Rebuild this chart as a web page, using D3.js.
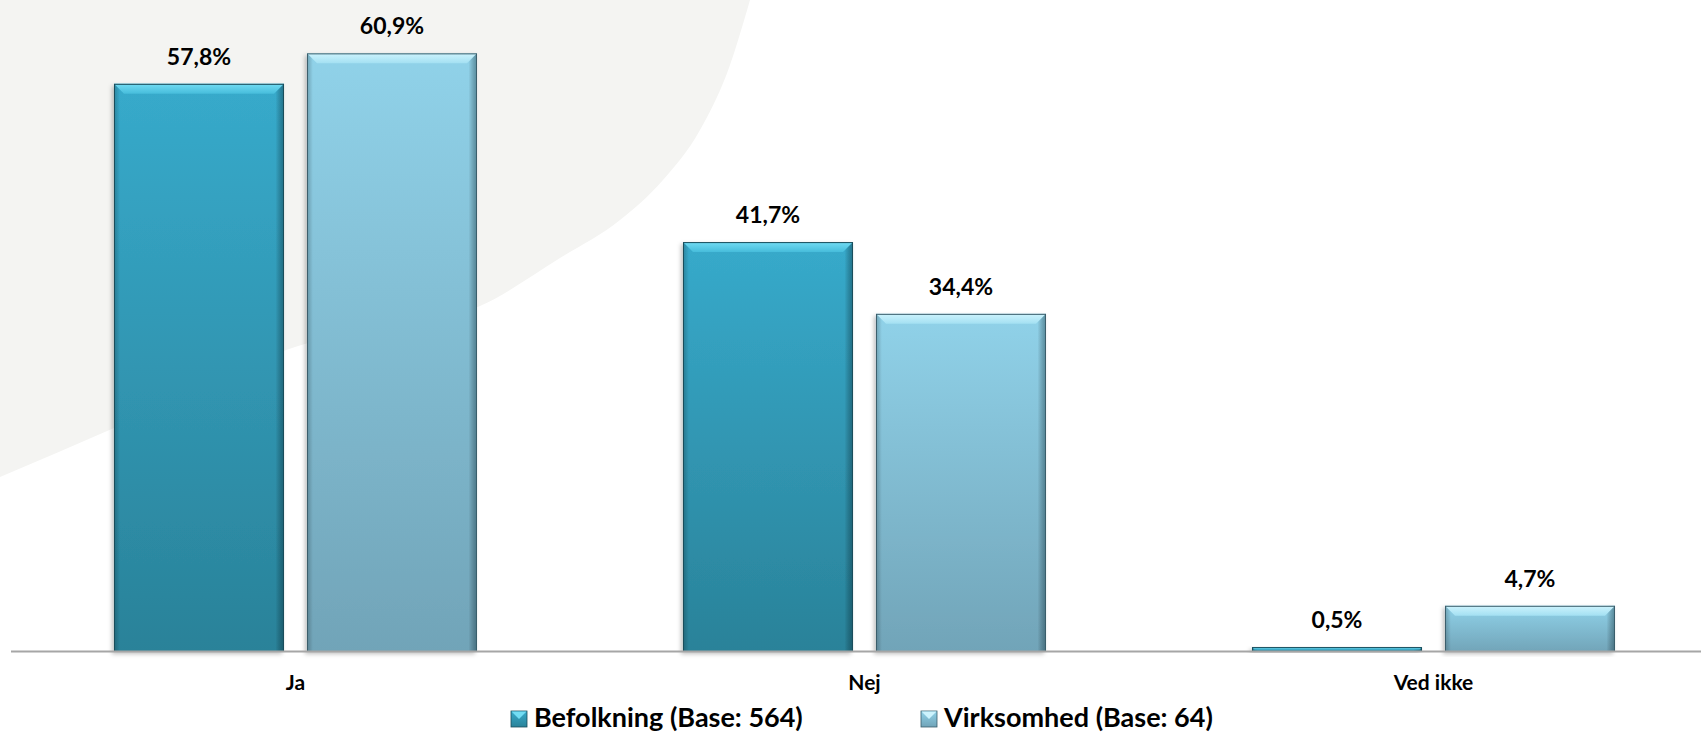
<!DOCTYPE html>
<html>
<head>
<meta charset="utf-8">
<script src="https://cdn.jsdelivr.net/npm/d3@7"></script>
<style>
    html, body { margin: 0; padding: 0; background: #fff; }
    svg { display: block; }
    text { font-family: Lato, "Open Sans", sans-serif; font-weight: bold; fill: #000; }
</style>
</head>
<body>
<div id="chart"></div>
<script>
// chart values
const categories = ["Ja", "Nej", "Ved ikke"];
const seriesKeys = ["befolkning", "virksomhed"];
const seriesNames = ["Befolkning (Base: 564)", "Virksomhed (Base: 64)"];
const befolkning = [57.8, 41.7, 0.5];
const virksomhed = [60.9, 34.4, 4.7];

// light grey decoration behind the plot (template background shape)
const bgShape = [[0, 477], [114, 428], [295, 347], [480, 306], [560, 258],
                 [620, 220], [663, 180], [700, 130], [730, 65], [750, 0]];

document.addEventListener("DOMContentLoaded", () => {
    const width = 1701, height = 735;
    const baseY = 652;

    const colors = {
        befolkning: { top: "#37aacb", bottom: "#2a8299", bevelTop: "#72dcf3", bevelBottom: "#46bcdb", stroke: "#1b4d5b" },
        virksomhed: { top: "#90d2e9", bottom: "#71a4b8", bevelTop: "#cdf3fd", bevelBottom: "#a3e0f2", stroke: "#3b5e6b" }
    };

    const comma = d3.formatLocale({ decimal: ",", thousands: ".", grouping: [3], currency: ["", " kr"] });
    const fmt = comma.format(".1f");

    const svg = d3.select("#chart")
        .append("svg")
        .attr("width", width)
        .attr("height", height);

    const defs = svg.append("defs");

    seriesKeys.forEach(k => {
        const c = colors[k];
        let g = defs.append("linearGradient").attr("id", "body-" + k)
            .attr("x1", 0).attr("y1", 0).attr("x2", 0).attr("y2", 1);
        g.append("stop").attr("offset", 0).attr("stop-color", c.top);
        g.append("stop").attr("offset", 1).attr("stop-color", c.bottom);

        let b = defs.append("linearGradient").attr("id", "bevel-" + k)
            .attr("x1", 0).attr("y1", 0).attr("x2", 0).attr("y2", 1);
        b.append("stop").attr("offset", 0).attr("stop-color", c.bevelTop);
        b.append("stop").attr("offset", 1).attr("stop-color", c.bevelBottom);
    });

    // darker left/right edges of the bars
    let side = defs.append("linearGradient").attr("id", "sides")
        .attr("x1", 0).attr("y1", 0).attr("x2", 1).attr("y2", 0);
    side.append("stop").attr("offset", 0).attr("stop-color", "#000").attr("stop-opacity", 0.22);
    side.append("stop").attr("offset", 0.035).attr("stop-color", "#000").attr("stop-opacity", 0);
    side.append("stop").attr("offset", 0.95).attr("stop-color", "#000").attr("stop-opacity", 0);
    side.append("stop").attr("offset", 1).attr("stop-color", "#00202a").attr("stop-opacity", 0.4);

    let shadow = defs.append("filter").attr("id", "shadow")
        .attr("x", "-10%").attr("y", "-10%").attr("width", "120%").attr("height", "120%");
    shadow.append("feDropShadow")
        .attr("dx", -2).attr("dy", 2).attr("stdDeviation", 2)
        .attr("flood-color", "#000").attr("flood-opacity", 0.25);

    // background shape
    const bgLine = d3.line().curve(d3.curveMonotoneX);
    svg.append("path")
        .attr("d", bgLine(bgShape) + "L0,0Z")
        .attr("fill", "#f4f4f2");

    // scales
    let x0 = d3.scaleBand()
        .domain(categories)
        .range([11, 1718])
        .paddingInner(0.362)
        .paddingOuter(0.181);

    let x1 = d3.scaleBand()
        .domain(seriesKeys)
        .range([0, x0.bandwidth()])
        .paddingInner(0.119);

    let y = d3.scaleLinear().domain([0, 70]).range([baseY, baseY - 70 * 9.83]);

    const rows = categories.map((cat, i) => ({
        cat: cat,
        values: [
            { key: "befolkning", value: befolkning[i] },
            { key: "virksomhed", value: virksomhed[i] }
        ]
    }));

    let groups = svg.selectAll("g.group")
        .data(rows)
        .enter()
        .append("g")
        .attr("class", "group")
        .attr("transform", d => "translate(" + x0(d.cat) + ",0)");

    let bars = groups.selectAll("g.bar")
        .data(d => d.values)
        .enter()
        .append("g")
        .attr("class", "bar")
        .attr("transform", d => "translate(" + x1(d.key) + "," + y(d.value) + ")");

    bars.each(function (d) {
        const g = d3.select(this);
        const w = x1.bandwidth();
        const h = baseY - y(d.value);
        const bv = Math.min(10, h * 0.5);

        g.append("rect")
            .attr("width", w)
            .attr("height", h)
            .attr("fill", "url(#body-" + d.key + ")")
            .attr("filter", "url(#shadow)");

        g.append("rect")
            .attr("width", w)
            .attr("height", h)
            .attr("fill", "url(#sides)");

        g.append("path")
            .attr("d", "M0,0H" + w + "L" + (w - bv) + "," + bv + "H" + bv + "Z")
            .attr("fill", "url(#bevel-" + d.key + ")");

        g.append("rect")
            .attr("x", 0.5).attr("y", 0.5)
            .attr("width", w - 1)
            .attr("height", Math.max(h - 1, 0.5))
            .attr("fill", "none")
            .attr("stroke", colors[d.key].stroke)
            .attr("stroke-width", 1);
    });

    // value labels
    bars.append("text")
        .attr("x", x1.bandwidth() / 2)
        .attr("y", -19)
        .attr("text-anchor", "middle")
        .style("font-size", "23px")
        .text(d => fmt(d.value) + "%");

    // axis line
    svg.append("line")
        .attr("x1", 11).attr("x2", width)
        .attr("y1", baseY - 0.5).attr("y2", baseY - 0.5)
        .attr("stroke", "#a6a6a6")
        .attr("stroke-width", 2);

    // category labels
    svg.selectAll("text.cat")
        .data(categories)
        .enter()
        .append("text")
        .attr("class", "cat")
        .attr("x", d => x0(d) + x0.bandwidth() / 2)
        .attr("y", 690)
        .attr("text-anchor", "middle")
        .style("font-size", "21px")
        .text(d => d);

    // legend
    let legend = svg.selectAll("g.legend")
        .data(seriesKeys)
        .enter()
        .append("g")
        .attr("class", "legend")
        .attr("transform", (d, i) => "translate(" + (511 + i * 410) + ",711)");

    legend.append("rect")
        .attr("width", 16).attr("height", 16)
        .attr("fill", d => "url(#body-" + d + ")")
        .attr("stroke", d => colors[d].stroke)
        .attr("stroke-width", 0.8);

    legend.append("path")
        .attr("d", "M0.5,0.5H15.5L8,8Z")
        .attr("fill", d => colors[d].bevelTop);

    legend.append("text")
        .attr("x", 23)
        .attr("y", 16)
        .style("font-size", "27px")
        .text((d, i) => seriesNames[i]);
});
</script>
</body>
</html>
